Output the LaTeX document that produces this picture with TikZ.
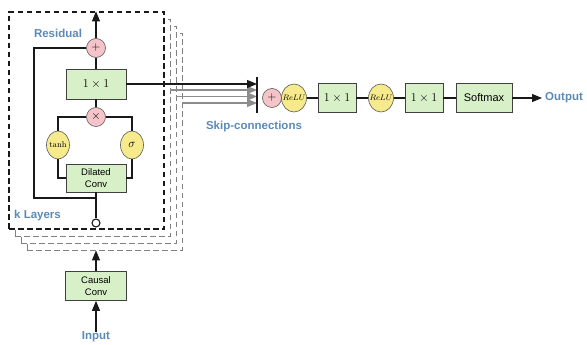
\documentclass[tikz,border=0pt]{standalone}
\usepackage{fontspec}
\setsansfont{Liberation Sans}
\usetikzlibrary{arrows.meta,shapes.geometric}
\definecolor{lblue}{HTML}{5B8AB8}
\definecolor{gfill}{HTML}{D8F0C8}
\definecolor{pfill}{HTML}{F4C4C8}
\definecolor{yfill}{HTML}{F6EA8C}
\newcommand{\relutext}{\makebox[0pt]{\fontsize{8}{9}\selectfont$ReLU$}}
\tikzset{
  conn/.style={draw=black!90, line width=1.1pt},
  arr/.style={conn, -{Triangle[length=10pt,width=8pt]}},
  garr/.style={draw=black!45, line width=1.1pt, -{Triangle[length=10pt,width=8pt]}},
  blk/.style={draw=black!75, fill=gfill, line width=0.7pt, inner sep=0pt, align=center,
    font=\sffamily\fontsize{9.5}{11.5}\selectfont},
  opc/.style={circle, draw=black!65, fill=pfill, line width=0.6pt, minimum size=19pt, inner sep=0pt,
    font=\fontsize{13}{15}\selectfont},
  act/.style={ellipse, draw=black!65, fill=yfill, line width=0.6pt, minimum width=24pt,
    minimum height=28pt, inner sep=0pt},
  lab/.style={text=lblue, inner sep=0pt, font=\sffamily\bfseries\fontsize{11.5}{13}\selectfont},
  backbox/.style={draw=black!50, fill=white, line width=0.9pt, dash pattern=on 5.5pt off 3.5pt,
    minimum width=155pt, minimum height=217pt, inner sep=0pt},
  frontbox/.style={backbox, draw=black!90, line width=1.3pt},
  onebyone/.style={font=\fontsize{13}{15}\selectfont}
}
\begin{document}
\begin{tikzpicture}[x=1pt,y=-1pt]
\useasboundingbox (0,0) rectangle (587,345);

% stacked layer frames, back to front
\foreach \k in {3,2,1}
  \node[backbox] (L\k) at (86.5+6*\k, 120.5+7*\k) {};
\node[frontbox] (L0) at (86.5,120.5) {};

% one residual layer
\node[opc] (plus) at (96,48) {$+$};
\node[blk, minimum width=60pt, minimum height=30pt, onebyone] (one) at (96,84) {$1\times 1$};
\node[opc] (times) at (96,117) {$\times$};
\node[act, minimum width=23pt] (tanh) at (58,145) {\makebox[0pt]{\fontsize{8.5}{9}\selectfont$\tanh$}};
\node[act, minimum width=23pt] (sig) at (132,145) {\fontsize{13}{15}\selectfont$\sigma$};
\node[blk, minimum width=60pt, minimum height=28pt] (dil) at (96,178) {Dilated\\Conv};
\node[circle, draw=black!90, fill=white, line width=1.1pt, minimum size=8pt, inner sep=0pt] (dot) at (96,223) {};
\coordinate (rl) at (34,198);
\coordinate (jn) at (96,198);

\draw[arr] (plus.north) -- (plus.north |- L0.north);
\draw[conn] (one.north) -- (plus.south);
\draw[conn] (times.north) -- (one.south);
\draw[conn] (times.west) -| (tanh.north);
\draw[conn] (times.east) -| (sig.north);
\draw[conn] (tanh.south) |- (dil.west);
\draw[conn] (sig.south) |- (dil.east);
\draw[conn] (dil.south) -- (dot.north);
\draw[conn] (plus.west) -| (rl) -- (jn);

\node[lab] at (58,33) {Residual};
\node[lab, anchor=west] at (14,216) {k Layers};

% input stage
\node[blk, minimum width=61pt, minimum height=29pt] (causal) at (96,286) {Causal\\Conv};
\node[lab] (input) at (96,337) {Input};
\draw[arr] (causal.north) -- (causal.north |- L3.south);
\draw[arr] (input.north) -- (causal.south);

% skip connections
\coordinate (barT) at (257,77);
\coordinate (barB) at (257,113);
\coordinate (g1) at (0,90);
\coordinate (g2) at (0,96.5);
\coordinate (g3) at (0,103);
\draw[garr] (L1.east |- g1) -- (barT |- g1);
\draw[garr] (L2.east |- g2) -- (barT |- g2);
\draw[garr] (L3.east |- g3) -- (barT |- g3);
\draw[arr] (one.east) -- (one.east -| barT);
\draw[draw=black!90, line width=1.3pt] (barT) -- (barB);
\node[lab] at (254,127) {Skip-connections};

% output stage
\node[opc] (plusR) at (272,98) {$+$};
\node[act, minimum width=25pt] (reluA) at (294,98) {\relutext};
\node[blk, minimum width=38pt, minimum height=29pt, onebyone] (oneA) at (337,98) {$1\times 1$};
\node[act, minimum width=25pt] (reluB) at (381,98) {\relutext};
\node[blk, minimum width=38pt, minimum height=29pt, onebyone] (oneB) at (424,98) {$1\times 1$};
\node[blk, minimum width=56pt, minimum height=29pt, font=\sffamily\fontsize{11}{13}\selectfont] (soft) at (484,98) {Softmax};
\node[lab, anchor=west] (out) at (545,98) {Output};
\coordinate (tip) at (542,98);

\draw[conn] (reluA.east) -- (oneA.west);
\draw[conn] (oneA.east) -- (reluB.west);
\draw[conn] (reluB.east) -- (oneB.west);
\draw[conn] (oneB.east) -- (soft.west);
\draw[arr] (soft.east) -- (tip);
\end{tikzpicture}
\end{document}
